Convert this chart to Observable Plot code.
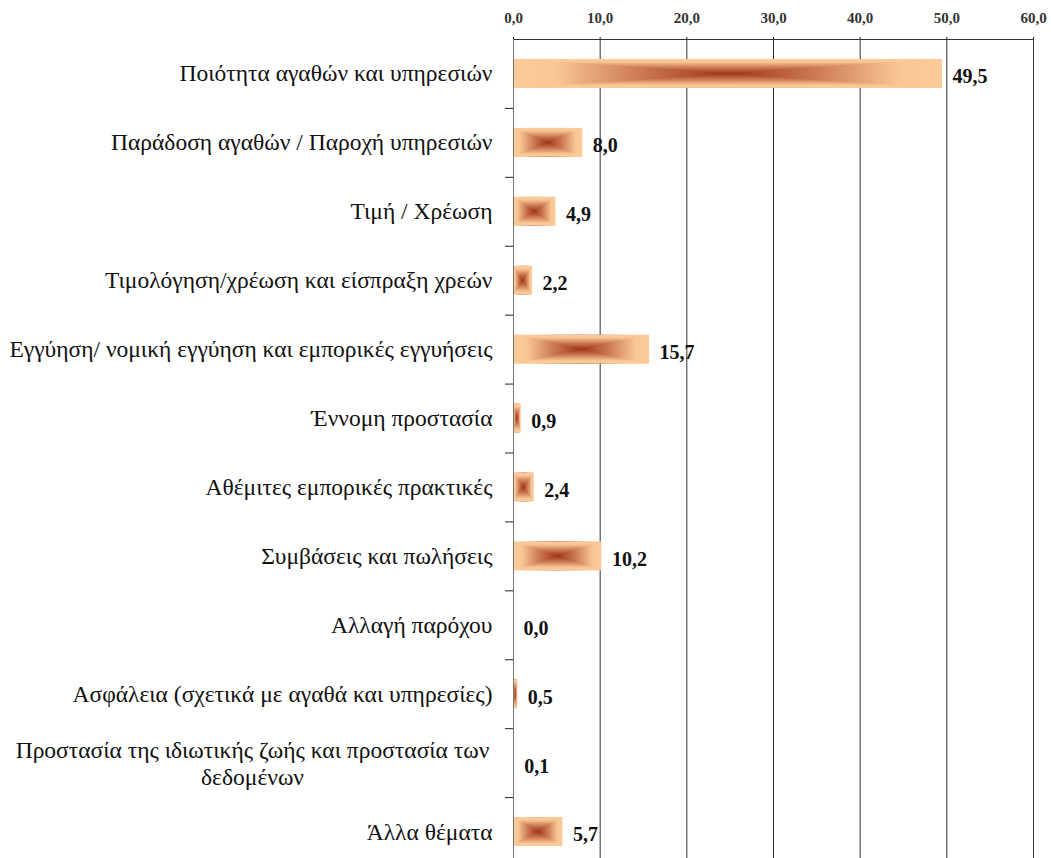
<!DOCTYPE html>
<html>
<head>
<meta charset="utf-8">
<script src="https://cdn.jsdelivr.net/npm/d3@7"></script>
<script src="https://cdn.jsdelivr.net/npm/@observablehq/plot@0.6"></script>
<style>
  html, body { margin: 0; padding: 0; background: #fff; overflow: hidden; }
</style>
</head>
<body>
<div id="chart"></div>
<script>
const categories = [
  "Ποιότητα αγαθών και υπηρεσιών",
  "Παράδοση αγαθών / Παροχή υπηρεσιών",
  "Τιμή / Χρέωση",
  "Τιμολόγηση/χρέωση και είσπραξη χρεών",
  "Εγγύηση/ νομική εγγύηση και εμπορικές εγγυήσεις",
  "Έννομη προστασία",
  "Αθέμιτες εμπορικές πρακτικές",
  "Συμβάσεις και πωλήσεις",
  "Αλλαγή παρόχου",
  "Ασφάλεια (σχετικά με αγαθά και υπηρεσίες)",
  "Προστασία της ιδιωτικής ζωής και προστασία των\nδεδομένων",
  "Άλλα θέματα"
];
const values = [49.5, 8.0, 4.9, 2.2, 15.7, 0.9, 2.4, 10.2, 0.0, 0.5, 0.1, 5.7];
const xTicks = [0, 10, 20, 30, 40, 50, 60];

const fmt = v => v.toFixed(1).replace(".", ",");
const data = categories.map((c, i) => ({cat: c, value: values[i], pos: i}));
const single = data.filter(d => !d.cat.includes("\n"));
const multi = data.filter(d => d.cat.includes("\n"));

const plot = Plot.plot({
  width: 1051,
  height: 866,
  marginLeft: 513,
  marginRight: 18,
  marginTop: 39,
  marginBottom: 0,
  style: {background: "#fff", color: "#222", fontFamily: "'Liberation Serif', serif"},
  x: {
    domain: [0, 60], axis: "top", ticks: xTicks, tickFormat: fmt,
    tickSize: 3, tickPadding: 14, label: null
  },
  y: {
    domain: [0, 12], reverse: true, axis: "left",
    ticks: d3.range(1, 12), tickFormat: () => "", tickSize: 8, label: null
  },
  marks: [
    Plot.ruleX(xTicks, {stroke: "#333", strokeWidth: 1}),
    Plot.ruleY([0], {stroke: "#333"}),
    Plot.rect(data, {x1: 0, x2: "value", y1: "pos", y2: d => d.pos + 1,
      insetTop: 20, insetBottom: 20, fill: "url(#gh)"}),
    Plot.rect(data, {x1: 0, x2: "value", y1: "pos", y2: d => d.pos + 1,
      insetTop: 20, insetBottom: 20, fill: "url(#gv)"}),
    Plot.ruleX([0], {stroke: "#777"}),
    Plot.text(data, {x: "value", y: d => d.pos + 0.5, text: d => fmt(d.value),
      textAnchor: "start", dx: 10, dy: 3, fontWeight: "bold", fontSize: 20, fill: "#111"}),
    Plot.text(single, {x: 0, y: d => d.pos + 0.5, text: "cat",
      textAnchor: "end", dx: -21, fontSize: 23.5, fill: "#111"}),
    Plot.text(multi, {x: 0, y: d => d.pos + 0.5, text: "cat",
      textAnchor: "middle", dx: -261, fontSize: 23.5, lineHeight: 1.15, fill: "#111"})
  ]
});

const svg = d3.select(plot);
svg.selectAll("g[aria-label='x-axis tick label'] text, g[aria-label='x-axis'] text")
  .attr("font-size", 15).attr("font-weight", 600).attr("fill", "#333");
const defs = svg.insert("defs", ":first-child");
const stops = [[0, "#fccb98"], [0.1, "#f9c793"], [0.3, "#cb7853"], [0.5, "#9e3417"],
               [0.7, "#cb7853"], [0.9, "#f9c793"], [1, "#fccb98"]];
const gh = defs.append("linearGradient").attr("id", "gh")
  .attr("x1", 0).attr("y1", 0).attr("x2", 1).attr("y2", 0);
const gv = defs.append("linearGradient").attr("id", "gv")
  .attr("x1", 0).attr("y1", 0).attr("x2", 0).attr("y2", 1);
for (const g of [gh, gv]) {
  for (const [o, c] of stops) g.append("stop").attr("offset", o).attr("stop-color", c);
}
const cp = defs.append("clipPath").attr("id", "bowtie").attr("clipPathUnits", "objectBoundingBox");
cp.append("polygon").attr("points", "0,0 1,0 0.5,0.5");
cp.append("polygon").attr("points", "0,1 1,1 0.5,0.5");
svg.selectAll("g[fill='url(#gv)'] rect").attr("clip-path", "url(#bowtie)");

document.getElementById("chart").appendChild(plot);
</script>
</body>
</html>
